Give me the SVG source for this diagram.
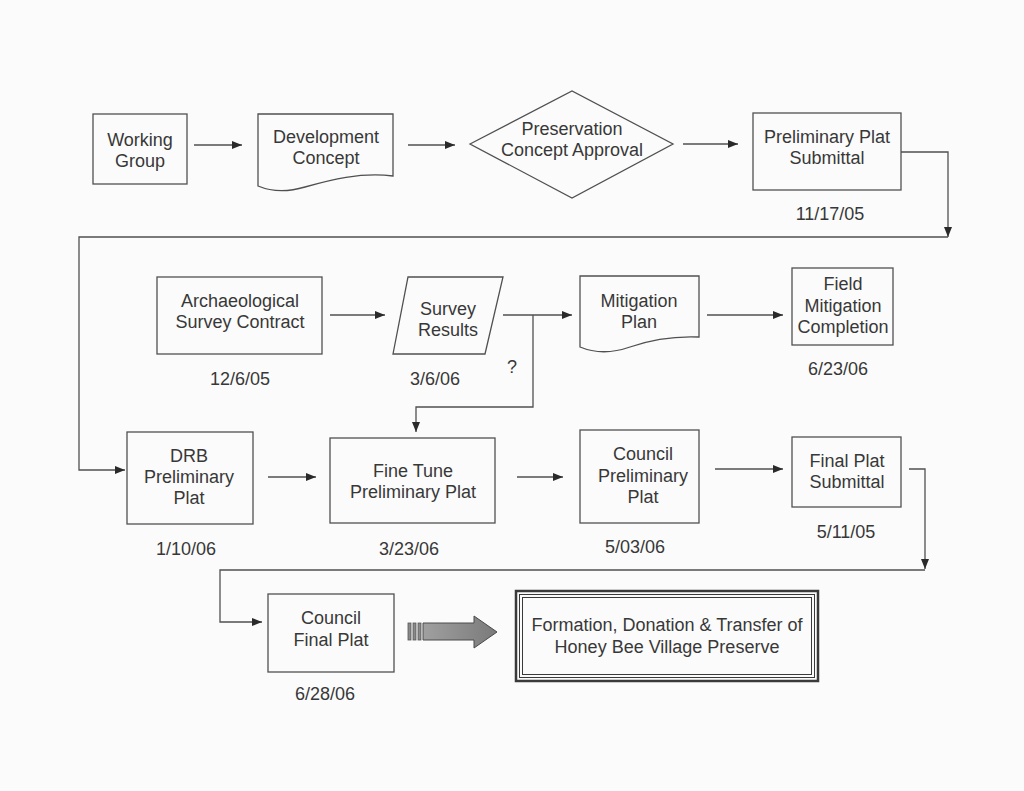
<svg xmlns="http://www.w3.org/2000/svg" width="1024" height="791" viewBox="0 0 1024 791">
<style>
.bg{fill:#fbfbfb}
.n{fill:none;stroke:#505050;stroke-width:1.3}
.t{font-family:"Liberation Sans",Arial,sans-serif;font-size:18px;fill:#383838;text-anchor:middle}
.c{fill:none;stroke:#505050;stroke-width:1.3}
</style>
<defs>
<marker id="ah" viewBox="0 0 10 8" refX="10" refY="4" markerWidth="10" markerHeight="8" markerUnits="userSpaceOnUse" orient="auto">
<path d="M0,0 L10,4 L0,8 Z" fill="#2a2a2a"/>
</marker>
<linearGradient id="bg1" x1="0" y1="0" x2="1" y2="0">
<stop offset="0" stop-color="#a0a0a0"/>
<stop offset="1" stop-color="#7a7a7a"/>
</linearGradient>
</defs>
<rect class="bg" x="0" y="0" width="1024" height="791"/>

<g id="working-group">
<rect class="n" x="93" y="114" width="94" height="70"/>
<text class="t" x="140" y="146">Working</text>
<text class="t" x="140" y="167">Group</text>
</g>

<g id="development-concept">
<path class="n" d="M258,114 H393 V176 C360,172 330,180 305,187 C285,193 270,191 258,186 Z"/>
<text class="t" x="326" y="143">Development</text>
<text class="t" x="326" y="164">Concept</text>
</g>

<g id="preservation-concept-approval">
<path class="n" d="M470,144 L572,91 L673,144 L572,198 Z"/>
<text class="t" x="572" y="135">Preservation</text>
<text class="t" x="572" y="156">Concept Approval</text>
</g>

<g id="preliminary-plat-submittal">
<rect class="n" x="753" y="113" width="148" height="77"/>
<text class="t" x="827" y="143">Preliminary Plat</text>
<text class="t" x="827" y="164">Submittal</text>
<text class="t" x="830" y="220">11/17/05</text>
</g>

<g id="archaeological-survey-contract">
<rect class="n" x="157" y="277" width="165" height="77"/>
<text class="t" x="240" y="307">Archaeological</text>
<text class="t" x="240" y="328">Survey Contract</text>
<text class="t" x="240" y="385">12/6/05</text>
</g>

<g id="survey-results">
<path class="n" d="M408,277 H503 L485,354 H393 Z"/>
<text class="t" x="448" y="315">Survey</text>
<text class="t" x="448" y="336">Results</text>
<text class="t" x="435" y="385">3/6/06</text>
<text class="t" x="512" y="373">?</text>
</g>

<g id="mitigation-plan">
<path class="n" d="M580,276 H699 V337 C675,336 650,340 630,347 C610,354 592,352 580,347 Z"/>
<text class="t" x="639" y="307">Mitigation</text>
<text class="t" x="639" y="328">Plan</text>
</g>

<g id="field-mitigation-completion">
<rect class="n" x="792" y="268" width="101" height="77"/>
<text class="t" x="843" y="290">Field</text>
<text class="t" x="843" y="312">Mitigation</text>
<text class="t" x="843" y="333">Completion</text>
<text class="t" x="838" y="375">6/23/06</text>
</g>

<g id="drb-preliminary-plat">
<rect class="n" x="127" y="432" width="126" height="92"/>
<text class="t" x="189" y="462">DRB</text>
<text class="t" x="189" y="483">Preliminary</text>
<text class="t" x="189" y="504">Plat</text>
<text class="t" x="186" y="555">1/10/06</text>
</g>

<g id="fine-tune-preliminary-plat">
<rect class="n" x="330" y="438" width="165" height="85"/>
<text class="t" x="413" y="477">Fine Tune</text>
<text class="t" x="413" y="498">Preliminary Plat</text>
<text class="t" x="409" y="555">3/23/06</text>
</g>

<g id="council-preliminary-plat">
<rect class="n" x="580" y="430" width="119" height="93"/>
<text class="t" x="643" y="460">Council</text>
<text class="t" x="643" y="482">Preliminary</text>
<text class="t" x="643" y="503">Plat</text>
<text class="t" x="635" y="553">5/03/06</text>
</g>

<g id="final-plat-submittal">
<rect class="n" x="792" y="437" width="109" height="70"/>
<text class="t" x="847" y="467">Final Plat</text>
<text class="t" x="847" y="488">Submittal</text>
<text class="t" x="846" y="538">5/11/05</text>
</g>

<g id="council-final-plat">
<rect class="n" x="268" y="594" width="126" height="78"/>
<text class="t" x="331" y="624">Council</text>
<text class="t" x="331" y="646">Final Plat</text>
<text class="t" x="325" y="700">6/28/06</text>
</g>

<g id="big-arrow">
<rect x="408" y="623" width="3" height="17" fill="#8a8a8a" stroke="#555" stroke-width="0.8"/>
<rect x="413" y="623" width="3" height="17" fill="#8a8a8a" stroke="#555" stroke-width="0.8"/>
<rect x="418" y="623" width="3" height="17" fill="#8a8a8a" stroke="#555" stroke-width="0.8"/>
<path d="M423,623 H474 V616 L497,632 L474,648 V640 H423 Z" fill="url(#bg1)" stroke="#4a4a4a" stroke-width="1"/>
</g>

<g id="honey-bee-village-preserve">
<rect x="516" y="591" width="302" height="90" fill="none" stroke="#3a3a3a" stroke-width="2.5"/>
<rect x="519.5" y="594.5" width="295" height="83" fill="none" stroke="#3a3a3a" stroke-width="1"/>
<rect x="522.5" y="597.5" width="289" height="77" fill="none" stroke="#3a3a3a" stroke-width="1"/>
<text class="t" x="667" y="631">Formation, Donation &amp; Transfer of</text>
<text class="t" x="667" y="653">Honey Bee Village Preserve</text>
</g>

<g id="connectors">
<path class="c" d="M194,145 H242" marker-end="url(#ah)"/>
<path class="c" d="M408,145 H455" marker-end="url(#ah)"/>
<path class="c" d="M683,144 H738" marker-end="url(#ah)"/>
<path class="c" d="M901,152 H948 V237" marker-end="url(#ah)"/>
<path class="c" d="M948,237 H79 V470 H125" marker-end="url(#ah)"/>
<path class="c" d="M330,315 H385" marker-end="url(#ah)"/>
<path class="c" d="M503,315 H572" marker-end="url(#ah)"/>
<path class="c" d="M533,315 V407 H416 V432" marker-end="url(#ah)"/>
<path class="c" d="M707,315 H783" marker-end="url(#ah)"/>
<path class="c" d="M268,477 H316" marker-end="url(#ah)"/>
<path class="c" d="M517,477 H563" marker-end="url(#ah)"/>
<path class="c" d="M715,469 H783" marker-end="url(#ah)"/>
<path class="c" d="M909,469 H925 V569" marker-end="url(#ah)"/>
<path class="c" d="M925,570 H220 V622 H262" marker-end="url(#ah)"/>
</g>
</svg>
